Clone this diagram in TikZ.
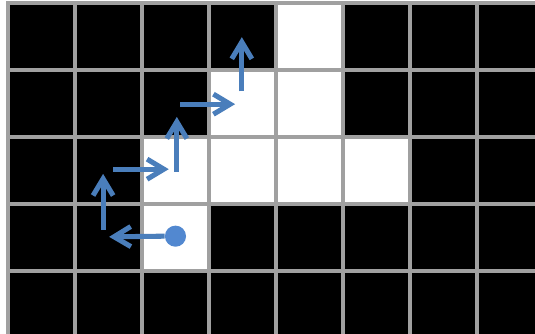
\documentclass[tikz,border=0pt]{standalone}
\usetikzlibrary{arrows.meta}
\definecolor{azul}{RGB}{74,126,187}
\definecolor{azulclaro}{RGB}{82,136,208}
\definecolor{rejilla}{RGB}{160,160,160}
\begin{document}
\begin{tikzpicture}[x=2cm, y=-2cm,
  linea/.style={draw=rejilla, line width=3pt, line cap=rect},
  paso/.style={-{Straight Barb[length=5mm,width=6mm]}, line width=4.3pt, color=azul},
  punto/.style={circle, fill=azulclaro, inner sep=0pt, minimum size=6.3mm}]
  % marco y recorte
  \useasboundingbox (-0.119,-0.045) rectangle (7.866,4.94);
  \fill[white] (-0.119,-0.045) rectangle (7.866,4.94);
  \clip (-0.119,-0.045) rectangle (7.866,4.94);
  % celdas
  \fill[black] (0,0) rectangle (9,6);
  \foreach \c/\r in {4/0,3/1,4/1,2/2,3/2,4/2,5/2,2/3}
    \fill[white] (\c,\r) rectangle ++(1,1);
  \foreach \i in {0,...,8}
    \draw[linea] (\i,0) -- (\i,6);
  \foreach \j in {0,...,5}
    \draw[linea] (0,\j) -- (9,\j);
  % recorrido
  \node[punto] (inicio) at (2.5,3.48) {};
  \coordinate (t1) at (1.51,3.49);
  \coordinate (s2) at (1.42,3.39);
  \coordinate (t2) at (1.42,2.55);
  \coordinate (s3) at (1.57,2.48);
  \coordinate (t3) at (2.40,2.48);
  \coordinate (s4) at (2.52,2.52);
  \coordinate (t4) at (2.52,1.70);
  \coordinate (s5) at (2.57,1.51);
  \coordinate (t5) at (3.39,1.51);
  \coordinate (s6) at (3.49,1.32);
  \coordinate (t6) at (3.49,0.51);
  \draw[paso] (inicio.west) -- (t1);
  \draw[paso] (s2) -- (t2);
  \draw[paso] (s3) -- (t3);
  \draw[paso] (s4) -- (t4);
  \draw[paso] (s5) -- (t5);
  \draw[paso] (s6) -- (t6);
\end{tikzpicture}
\end{document}
